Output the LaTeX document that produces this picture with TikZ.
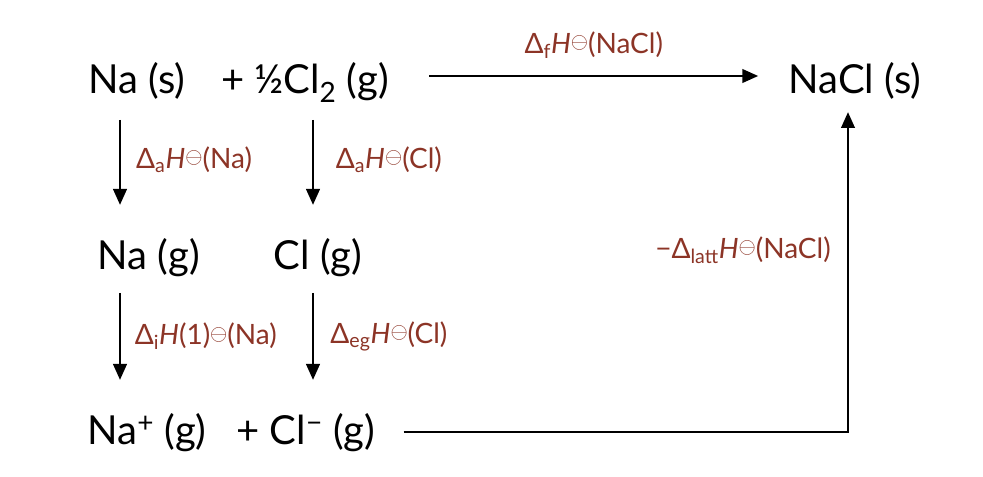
\documentclass[tikz,border=0pt]{standalone}
\usepackage{fontspec}
\setmainfont{Lato}
\usetikzlibrary{arrows.meta,calc}
\definecolor{lblred}{RGB}{140,52,38}
\newcommand{\plim}{\raisebox{0.35ex}{\scalebox{0.8}{$\ominus$}}}
\begin{document}
\begin{tikzpicture}[x=0.75pt,y=-0.75pt,
  main/.style={inner sep=0pt,anchor=base,font=\fontsize{30}{36}\selectfont},
  lbl/.style={inner sep=0pt,text=lblred,font=\fontsize{21}{25}\selectfont},
  arr/.style={line width=2.2pt,-{Triangle[length=12pt,width=10pt]}}]
\useasboundingbox (0,0) rectangle (983,477);
% species
\node[main] (nas) at (137,94) {Na (s)};
\node[main] (cl2) at (305,94) {+ ½Cl\textsubscript{2} (g)};
\node[main] (nacl) at (855,94) {NaCl (s)};
\node[main] (nag) at (149,270) {Na (g)};
\node[main] (clg) at (318,270) {Cl (g)};
\node[main] (nap) at (147,445) {Na\textsuperscript{+} (g)};
\node[main] (clm) at (306,445) {+ Cl\textsuperscript{−} (g)};
\coordinate (ax1) at (120,0);
\coordinate (ax2) at (313,0);
% top arrow
\draw[arr] ($(cl2.base east)+(40,-18)$) -- ($(nacl.base west)+(-30,-18)$)
  node[lbl,midway,above=12pt] {Δ\textsubscript{f}\textit{H}\plim(NaCl)};
% vertical arrows
\draw[arr] ($(nas.base -| ax1)+(0,26)$) -- ($(nag.base -| ax1)+(0,-65)$)
  node[lbl,midway,anchor=west,xshift=11pt,yshift=2pt] {Δ\textsubscript{a}\textit{H}\plim(Na)};
\draw[arr] ($(cl2.base -| ax2)+(0,26)$) -- ($(clg.base -| ax2)+(0,-65)$)
  node[lbl,midway,anchor=west,xshift=16pt,yshift=2pt] {Δ\textsubscript{a}\textit{H}\plim(Cl)};
\draw[arr] ($(nag.base -| ax1)+(0,23)$) -- ($(nap.base -| ax1)+(0,-65)$)
  node[lbl,midway,anchor=west,xshift=10pt] {Δ\textsubscript{i}\textit{H}(1)\plim(Na)};
\draw[arr] ($(clg.base -| ax2)+(0,23)$) -- ($(clm.base -| ax2)+(0,-65)$)
  node[lbl,midway,anchor=west,xshift=12pt] {Δ\textsubscript{eg}\textit{H}\plim(Cl)};
% lattice path
\coordinate (up) at ($(nacl.base)+(-7,18)$);
\draw[arr] ($(clm.base east)+(28,-13)$) -| (up);
\node[lbl,anchor=east] (latt) at (831,250) {−Δ\textsubscript{latt}\textit{H}\plim(NaCl)};
\end{tikzpicture}
\end{document}
